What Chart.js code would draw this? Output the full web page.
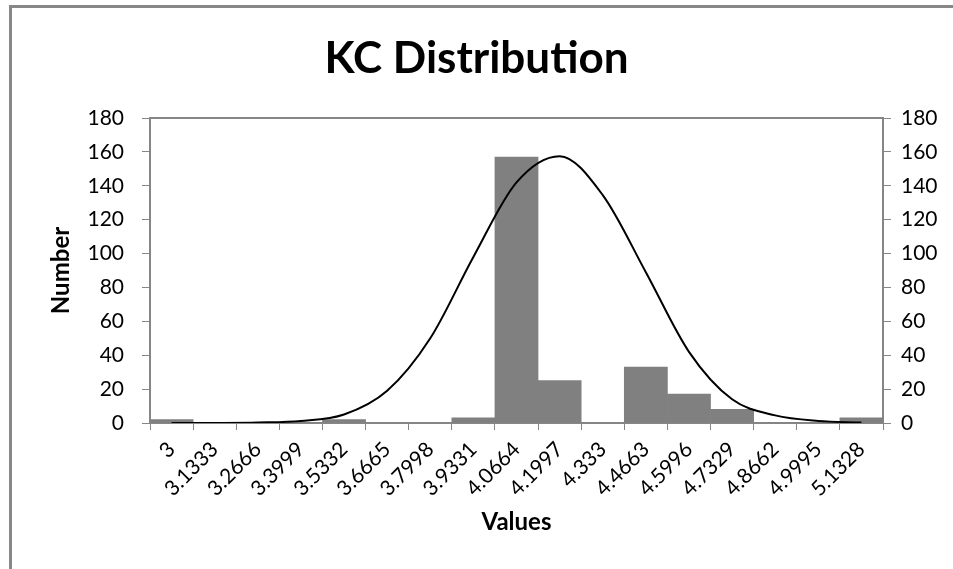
<!DOCTYPE html>
<html>
<head>
<meta charset="utf-8">
<script src="https://cdn.jsdelivr.net/npm/chart.js@4/dist/chart.umd.min.js"></script>
<style>
  html, body { margin: 0; padding: 0; background: #fff; overflow: hidden; }
  #frame { position: absolute; left: 9px; top: 5px; width: 2000px; height: 2000px; border: 3px solid #888888; }
  #graph1 { position: absolute; left: 0; top: 0; }
</style>
</head>
<body>
<div id="frame"></div>
<canvas id="graph1" width="953" height="569"></canvas>
<script>
// bin labels
var labels = ['3', '3.1333', '3.2666', '3.3999', '3.5332', '3.6665', '3.7998', '3.9331', '4.0664',
  '4.1997', '4.333', '4.4663', '4.5996', '4.7329', '4.8662', '4.9995', '5.1328'];
// counts per bin
var counts = [2, 0, 0, 0, 2, 0, 0, 3, 157, 25, 0, 33, 17, 8, 0, 0, 3];
// normal curve
var curve = [0, 0.05, 0.3, 1.2, 5, 19, 50, 98, 142, 157.5, 134.5, 89, 42, 14, 4.5, 1.2, 0.3];
var yTicks = [0, 20, 40, 60, 80, 100, 120, 140, 160, 180];

var axisGray = '#868686';
var fontName = 'Lato';

// top edge of the plot area
var plotBorder = {
  id: 'plotBorder',
  afterDraw: function(chart) {
    var a = chart.chartArea, c = chart.ctx;
    c.save();
    c.strokeStyle = axisGray;
    c.lineWidth = 2;
    c.beginPath();
    c.moveTo(a.left, a.top);
    c.lineTo(a.right, a.top);
    c.stroke();
    c.restore();
  }
};

var ctx = document.getElementById('graph1').getContext('2d');
var graph1 = new Chart(ctx, {
  type: 'bar',
  data: {
    labels: labels,
    datasets: [
      {
        type: 'line',
        label: 'Normal',
        data: curve,
        borderColor: '#000000',
        borderWidth: 2,
        pointRadius: 0,
        fill: false,
        cubicInterpolationMode: 'monotone',
        yAxisID: 'y',
        order: 0
      },
      {
        label: 'Number',
        data: counts,
        backgroundColor: '#808080',
        borderWidth: 0,
        barPercentage: 1,
        categoryPercentage: 1,
        yAxisID: 'y',
        order: 1
      }
    ]
  },
  plugins: [plotBorder],
  options: {
    responsive: false,
    animation: false,
    layout: { padding: 0 },
    plugins: {
      legend: { display: false },
      tooltip: { enabled: false },
      title: {
        display: true,
        text: 'KC Distribution',
        color: '#000',
        font: { family: fontName, size: 44, weight: 'bold', lineHeight: 1.2 },
        padding: { top: 32.6, bottom: 32.6 }
      }
    },
    scales: {
      x: {
        grid: { display: true, drawOnChartArea: false, offset: true, color: axisGray, lineWidth: 1, tickLength: 7 },
        border: { display: true, color: axisGray, width: 2 },
        ticks: { color: '#000', font: { family: fontName, size: 21 }, minRotation: 45, maxRotation: 45, padding: 7, autoSkip: false },
        title: { display: true, text: 'Values', color: '#000', font: { family: fontName, size: 24, weight: 'bold', lineHeight: 1.2 }, padding: { top: 0, bottom: 32 } },
        afterFit: function(s) { s.height = 146; }
      },
      y: {
        position: 'left',
        min: 0, max: 180,
        afterBuildTicks: function(s) { s.ticks = yTicks.map(function(v) { return { value: v }; }); },
        grid: { display: true, drawOnChartArea: false, color: axisGray, lineWidth: 1, tickLength: 8 },
        border: { display: true, color: axisGray, width: 2 },
        ticks: { color: '#000', font: { family: fontName, size: 21 }, padding: 18 },
        title: { display: true, text: 'Number', color: '#000', font: { family: fontName, size: 24, weight: 'bold', lineHeight: 1.2 }, padding: { top: 47, bottom: 0 } },
        afterFit: function(s) { s.width = 150; }
      },
      y2: {
        position: 'right',
        min: 0, max: 180,
        afterBuildTicks: function(s) { s.ticks = yTicks.map(function(v) { return { value: v }; }); },
        grid: { display: true, drawOnChartArea: false, color: axisGray, lineWidth: 1, tickLength: 8 },
        border: { display: true, color: axisGray, width: 2 },
        ticks: { color: '#000', font: { family: fontName, size: 21 }, padding: 10 },
        afterFit: function(s) { s.width = 70; }
      }
    }
  }
});
</script>
</body>
</html>
